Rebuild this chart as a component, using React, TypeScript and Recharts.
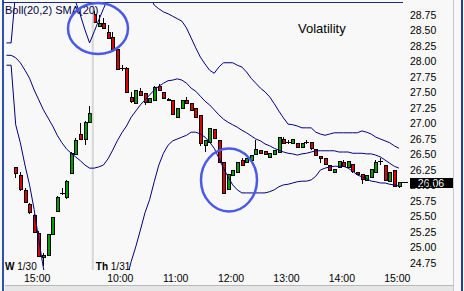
import React from 'react'
import { ComposedChart, Bar, Line, XAxis, YAxis, ReferenceLine } from 'recharts'

// ─── Data (5-minute bars, W 1/30 14:40 → Th 1/31 15:05) ─────────────

const opens = [
    26.30, 26.17, 25.93, 25.70, 25.52, 25.23, 24.85, 24.88, 25.22, 25.59, 25.88, 25.81, 26.20, 26.51, 26.83, 26.75, 27.02,
    28.77, 28.57, 28.62, 28.48, 28.40, 28.20, 27.90, 27.90, 27.43, 27.33, 27.52, 27.49, 27.35, 27.38, 27.60, 27.51, 27.40,
    27.38, 27.10, 27.25, 27.38, 27.33, 27.25, 27.14, 26.65, 26.70, 26.91, 26.73, 26.38, 25.94, 26.17, 26.22, 26.41, 26.38,
    26.41, 26.51, 26.57, 26.56, 26.46, 26.51, 26.54, 26.75, 26.70, 26.69, 26.69, 26.62, 26.70, 26.70, 26.59, 26.48, 26.44,
    26.33, 26.22, 26.30, 26.38, 26.30, 26.35, 26.22, 26.19, 26.09, 26.14, 26.22, 26.40, 26.33, 26.07, 26.25, 25.99,
]
const highs = [
    26.30, 26.22, 25.96, 25.72, 25.54, 25.27, 24.91, 25.22, 25.49, 25.83, 25.96, 26.09, 26.54, 26.77, 27.01, 27.04, 27.28,
    28.81, 28.75, 28.70, 28.59, 28.48, 28.20, 27.94, 27.91, 27.51, 27.54, 27.57, 27.49, 27.41, 27.60, 27.64, 27.51, 27.41,
    27.38, 27.25, 27.38, 27.43, 27.33, 27.25, 27.14, 26.73, 26.93, 26.91, 26.73, 26.38, 26.19, 26.25, 26.38, 26.44, 26.44,
    26.49, 26.73, 26.57, 26.56, 26.52, 26.57, 26.78, 26.78, 26.73, 26.75, 26.69, 26.69, 26.73, 26.70, 26.59, 26.48, 26.44,
    26.33, 26.27, 26.40, 26.41, 26.40, 26.35, 26.22, 26.19, 26.17, 26.27, 26.41, 26.44, 26.33, 26.22, 26.25, 26.06,
]
const lows = [
    26.12, 25.91, 25.72, 25.54, 25.23, 24.85, 24.70, 24.86, 25.22, 25.59, 25.85, 25.78, 26.20, 26.51, 26.73, 26.65, 27.02,
    28.62, 28.57, 28.54, 28.38, 28.15, 27.86, 27.85, 27.51, 27.33, 27.33, 27.46, 27.30, 27.35, 27.38, 27.52, 27.41, 27.36,
    27.15, 27.09, 27.25, 27.33, 27.22, 27.10, 26.64, 26.54, 26.70, 26.77, 26.38, 25.88, 25.94, 26.17, 26.22, 26.33, 26.38,
    26.41, 26.51, 26.52, 26.49, 26.46, 26.51, 26.54, 26.69, 26.67, 26.69, 26.62, 26.62, 26.67, 26.57, 26.49, 26.36, 26.35,
    26.25, 26.22, 26.30, 26.31, 26.30, 26.20, 26.19, 26.02, 26.09, 26.14, 26.22, 26.33, 26.09, 26.07, 25.98, 25.96,
]
const closes = [
    26.20, 25.94, 25.73, 25.57, 25.25, 24.86, 24.88, 25.22, 25.49, 25.81, 25.88, 26.07, 26.52, 26.73, 26.75, 27.02, 27.17,
    28.64, 28.62, 28.54, 28.38, 28.20, 27.88, 27.90, 27.51, 27.36, 27.54, 27.46, 27.35, 27.41, 27.59, 27.54, 27.41, 27.38,
    27.15, 27.25, 27.38, 27.33, 27.22, 27.10, 26.69, 26.73, 26.93, 26.77, 26.38, 25.88, 26.19, 26.25, 26.38, 26.33, 26.44,
    26.49, 26.59, 26.52, 26.51, 26.52, 26.57, 26.78, 26.69, 26.70, 26.75, 26.62, 26.69, 26.70, 26.60, 26.49, 26.44, 26.35,
    26.25, 26.27, 26.40, 26.31, 26.40, 26.23, 26.19, 26.11, 26.17, 26.27, 26.38, 26.40, 26.09, 26.22, 25.99, 26.06,
]

// Bollinger bands start two slots before the first visible bar
const bandStart = -2
const upperBand = [
    28.30, 28.30, 29.14, 29.27, 29.40, 29.46, 29.48, 29.64, 29.77, 29.86, 29.77, 29.60, 29.44, 29.27, 29.12, 28.96, 28.75,
    28.51, 28.30, 28.48, 28.67, 28.85, 29.02, 29.19, 29.36, 29.46, 29.44, 29.44, 29.40, 29.31, 29.20, 29.06, 28.91, 28.85,
    28.80, 28.77, 28.73, 28.69, 28.65, 28.54, 28.38, 28.22, 28.07, 27.96, 27.86, 27.81, 27.91, 27.98, 27.98, 27.98, 27.94,
    27.91, 27.83, 27.73, 27.65, 27.57, 27.51, 27.43, 27.32, 27.20, 27.09, 26.99, 26.98, 26.96, 26.93, 26.93, 26.93, 26.86,
    26.83, 26.81, 26.83, 26.85, 26.85, 26.85, 26.85, 26.85, 26.85, 26.88, 26.86, 26.83, 26.78, 26.75, 26.72, 26.69, 26.64,
    26.60,
]
const midBand = [
    28.10, 28.10, 28.06, 27.98, 27.86, 27.73, 27.54, 27.38, 27.22, 27.09, 26.96, 26.81, 26.69, 26.59, 26.52, 26.46, 26.40,
    26.33, 26.28, 26.28, 26.30, 26.33, 26.43, 26.57, 26.72, 26.85, 26.96, 27.10, 27.20, 27.30, 27.38, 27.46, 27.54, 27.60,
    27.65, 27.69, 27.70, 27.72, 27.70, 27.65, 27.57, 27.52, 27.44, 27.36, 27.30, 27.22, 27.14, 27.07, 27.02, 26.98, 26.94,
    26.89, 26.85, 26.80, 26.75, 26.72, 26.67, 26.64, 26.60, 26.57, 26.54, 26.52, 26.51, 26.49, 26.51, 26.52, 26.54, 26.56,
    26.56, 26.56, 26.56, 26.56, 26.54, 26.54, 26.54, 26.52, 26.52, 26.52, 26.51, 26.51, 26.49, 26.46, 26.41, 26.36, 26.31,
    26.28,
]
const lowerBand = [
    27.94, 27.94, 26.98, 26.69, 26.33, 26.01, 25.61, 25.12, 24.67, 24.31, 24.15, 24.02, 23.93, 23.91, 23.93, 23.96, 24.04,
    24.15, 24.27, 24.09, 23.93, 23.81, 23.83, 23.96, 24.07, 24.23, 24.48, 24.77, 25.01, 25.28, 25.56, 25.77, 26.06, 26.33,
    26.52, 26.65, 26.72, 26.75, 26.78, 26.81, 26.86, 26.86, 26.83, 26.78, 26.70, 26.60, 26.44, 26.28, 26.14, 26.01, 25.93,
    25.88, 25.88, 25.88, 25.88, 25.88, 25.88, 25.90, 25.93, 25.98, 26.01, 26.02, 26.04, 26.06, 26.07, 26.07, 26.09, 26.15,
    26.25, 26.28, 26.30, 26.31, 26.31, 26.31, 26.28, 26.23, 26.17, 26.14, 26.11, 26.07, 26.06, 26.04, 26.04, 26.02, 26.01,
    25.99,
]

const priceTicks = [24.75, 25.00, 25.25, 25.50, 25.75, 26.00, 26.25, 26.50, 26.75, 27.00, 27.25, 27.50, 27.75, 28.00, 28.25, 28.50, 28.75]
const timeTicks = [4, 22, 34, 46, 58, 70, 82]
const timeLabels = ['15:00', '10:00', '11:00', '12:00', '13:00', '14:00', '15:00']
const dayBreaks = [-2.3, 16.7]
const dayLabels = [['W', '1/30'], ['Th', '1/31']]
const lastPrice = 26.06

// ─── Helpers ─────────────────────────────────────────────────────────

const FONT = '"Liberation Sans", Arial, sans-serif'
const BAND = '#000080'
const UP = '#00a000'
const DOWN = '#e00000'

const data = upperBand.map((u, k) => {
    const slot = k + bandStart
    const row: any = { slot, upper: u, mid: midBand[k], lower: lowerBand[k] }
    if (slot >= 0) {
        row.o = opens[slot]
        row.h = highs[slot]
        row.l = lows[slot]
        row.c = closes[slot]
        row.range = [lows[slot], highs[slot]]
    }
    return row
})

const Candle = (props: any) => {
    const { x, y, width, height, payload } = props
    if (!payload || payload.o == null) return null
    const { o, h, l, c } = payload
    const px = Math.round(x + width / 2)
    const ppu = h > l ? height / (h - l) : 0
    const yOf = (v: number) => y + (h - v) * ppu
    const top = Math.round(yOf(Math.max(o, c)))
    const bot = Math.round(yOf(Math.min(o, c)))
    const wick = <line x1={px + 0.5} x2={px + 0.5} y1={Math.round(y)} y2={Math.round(y + height)} stroke="#000" strokeWidth={1} />
    if (o === c) {
        return (
            <g>
                {wick}
                <line x1={px - 2} x2={px + 3} y1={top + 0.5} y2={top + 0.5} stroke="#000" strokeWidth={1} />
            </g>
        )
    }
    return (
        <g>
            {wick}
            <rect x={px - 0.5} y={top + 0.5} width={3} height={Math.max(bot - top, 1)} fill={c > o ? UP : DOWN} stroke="#000" strokeWidth={1} />
        </g>
    )
}

const PriceTick = (props: any) => {
    const { y, payload } = props
    return (
        <text x={410} y={y} dy="0.36em" fontSize={10.5} fontFamily={FONT} fill="#000">
            {payload.value.toFixed(2)}
        </text>
    )
}

const TimeTick = (props: any) => {
    const { x, payload } = props
    const t = timeTicks.indexOf(payload.value)
    if (t >= 0) {
        return (
            <text x={x + 3} y={281.5} textAnchor="middle" fontSize={10.5} fontFamily={FONT} fill="#000">
                {timeLabels[t]}
            </text>
        )
    }
    const d = dayBreaks.indexOf(payload.value)
    if (d < 0) return null
    return (
        <text x={d === 0 ? 5 : x + 3} y={270} fontSize={10} fontFamily={FONT} fill="#000">
            <tspan fontWeight="bold">{dayLabels[d][0]}</tspan>
            <tspan>{' ' + dayLabels[d][1]}</tspan>
        </text>
    )
}

const PriceTag = (props: any) => {
    const { viewBox } = props
    if (!viewBox) return null
    const right = viewBox.x + viewBox.width
    const y = Math.round(viewBox.y)
    return (
        <g>
            <line x1={right - 3} x2={right + 5} y1={y + 0.5} y2={y + 0.5} stroke="#000" />
            <rect x={right + 7} y={y - 4} width={43} height={10} fill="#000" />
            <text x={right + 28} y={y + 1} dy="0.36em" textAnchor="middle" fontSize={10.5} fontFamily={FONT} fill="#fff">
                {lastPrice.toFixed(2)}
            </text>
        </g>
    )
}

// ─── Component ───────────────────────────────────────────────────────

export default function App() {
    return (
        <div style={{ position: 'fixed', left: 0, top: 0, width: 464, height: 291, background: '#f8f8f8', overflow: 'hidden' }}>
            <ComposedChart width={464} height={291} data={data} margin={{ top: 3, right: 11, bottom: 0, left: 5 }}>
                <XAxis
                    dataKey="slot"
                    type="number"
                    domain={[-2.32, 83.89]}
                    allowDataOverflow
                    ticks={[...dayBreaks, ...timeTicks]}
                    interval={0}
                    height={21}
                    axisLine={false}
                    tickLine={false}
                    tick={<TimeTick />}
                />
                <YAxis
                    orientation="right"
                    width={50}
                    domain={[24.637, 28.9435]}
                    allowDataOverflow
                    ticks={priceTicks}
                    interval={0}
                    axisLine={false}
                    tickLine={false}
                    tick={<PriceTick />}
                />
                <ReferenceLine x={16.7} stroke="#d6d6d6" strokeWidth={2} />
                <Bar dataKey="range" barSize={4} shape={<Candle />} isAnimationActive={false} />
                <Line type="linear" dataKey="upper" stroke={BAND} strokeWidth={1} dot={false} isAnimationActive={false} />
                <Line type="linear" dataKey="mid" stroke={BAND} strokeWidth={1} dot={false} isAnimationActive={false} />
                <Line type="linear" dataKey="lower" stroke={BAND} strokeWidth={1} dot={false} isAnimationActive={false} />
                <ReferenceLine y={lastPrice} stroke="none" label={<PriceTag />} />
            </ComposedChart>
            <svg width={464} height={291} style={{ position: 'absolute', left: 0, top: 0, pointerEvents: 'none' }}>
                <line x1={3} x2={3} y1={0} y2={291} stroke="#3050b0" strokeWidth={2} />
                <line x1={3} x2={403} y1={2.5} y2={2.5} stroke="#1a2a8a" strokeWidth={1} />
                <line x1={453.5} x2={453.5} y1={0} y2={291} stroke="#c8c8c8" strokeWidth={1} />
                <line x1={462} x2={462} y1={0} y2={291} stroke="#2040a0" strokeWidth={2} />
                <rect x={5} y={285} width={448} height={6} fill="#e6e6e6" />
                <line x1={5} x2={453} y1={285.5} y2={285.5} stroke="#b8b8b8" />
                <text x={5} y={14} fontSize={11} fontFamily={FONT} fill="#000040">Boll(20,2) SMA(20)</text>
                <text x={298} y={33} fontSize={13} fontFamily={FONT} fill="#000">Volatility</text>
                <ellipse cx={98} cy={28.5} rx={30} ry={25.5} fill="none" stroke="#4a5ae8" strokeWidth={2.5} />
                <ellipse cx={229} cy={180} rx={28} ry={31.5} fill="none" stroke="#4a5ae8" strokeWidth={2.5} />
            </svg>
        </div>
    )
}
